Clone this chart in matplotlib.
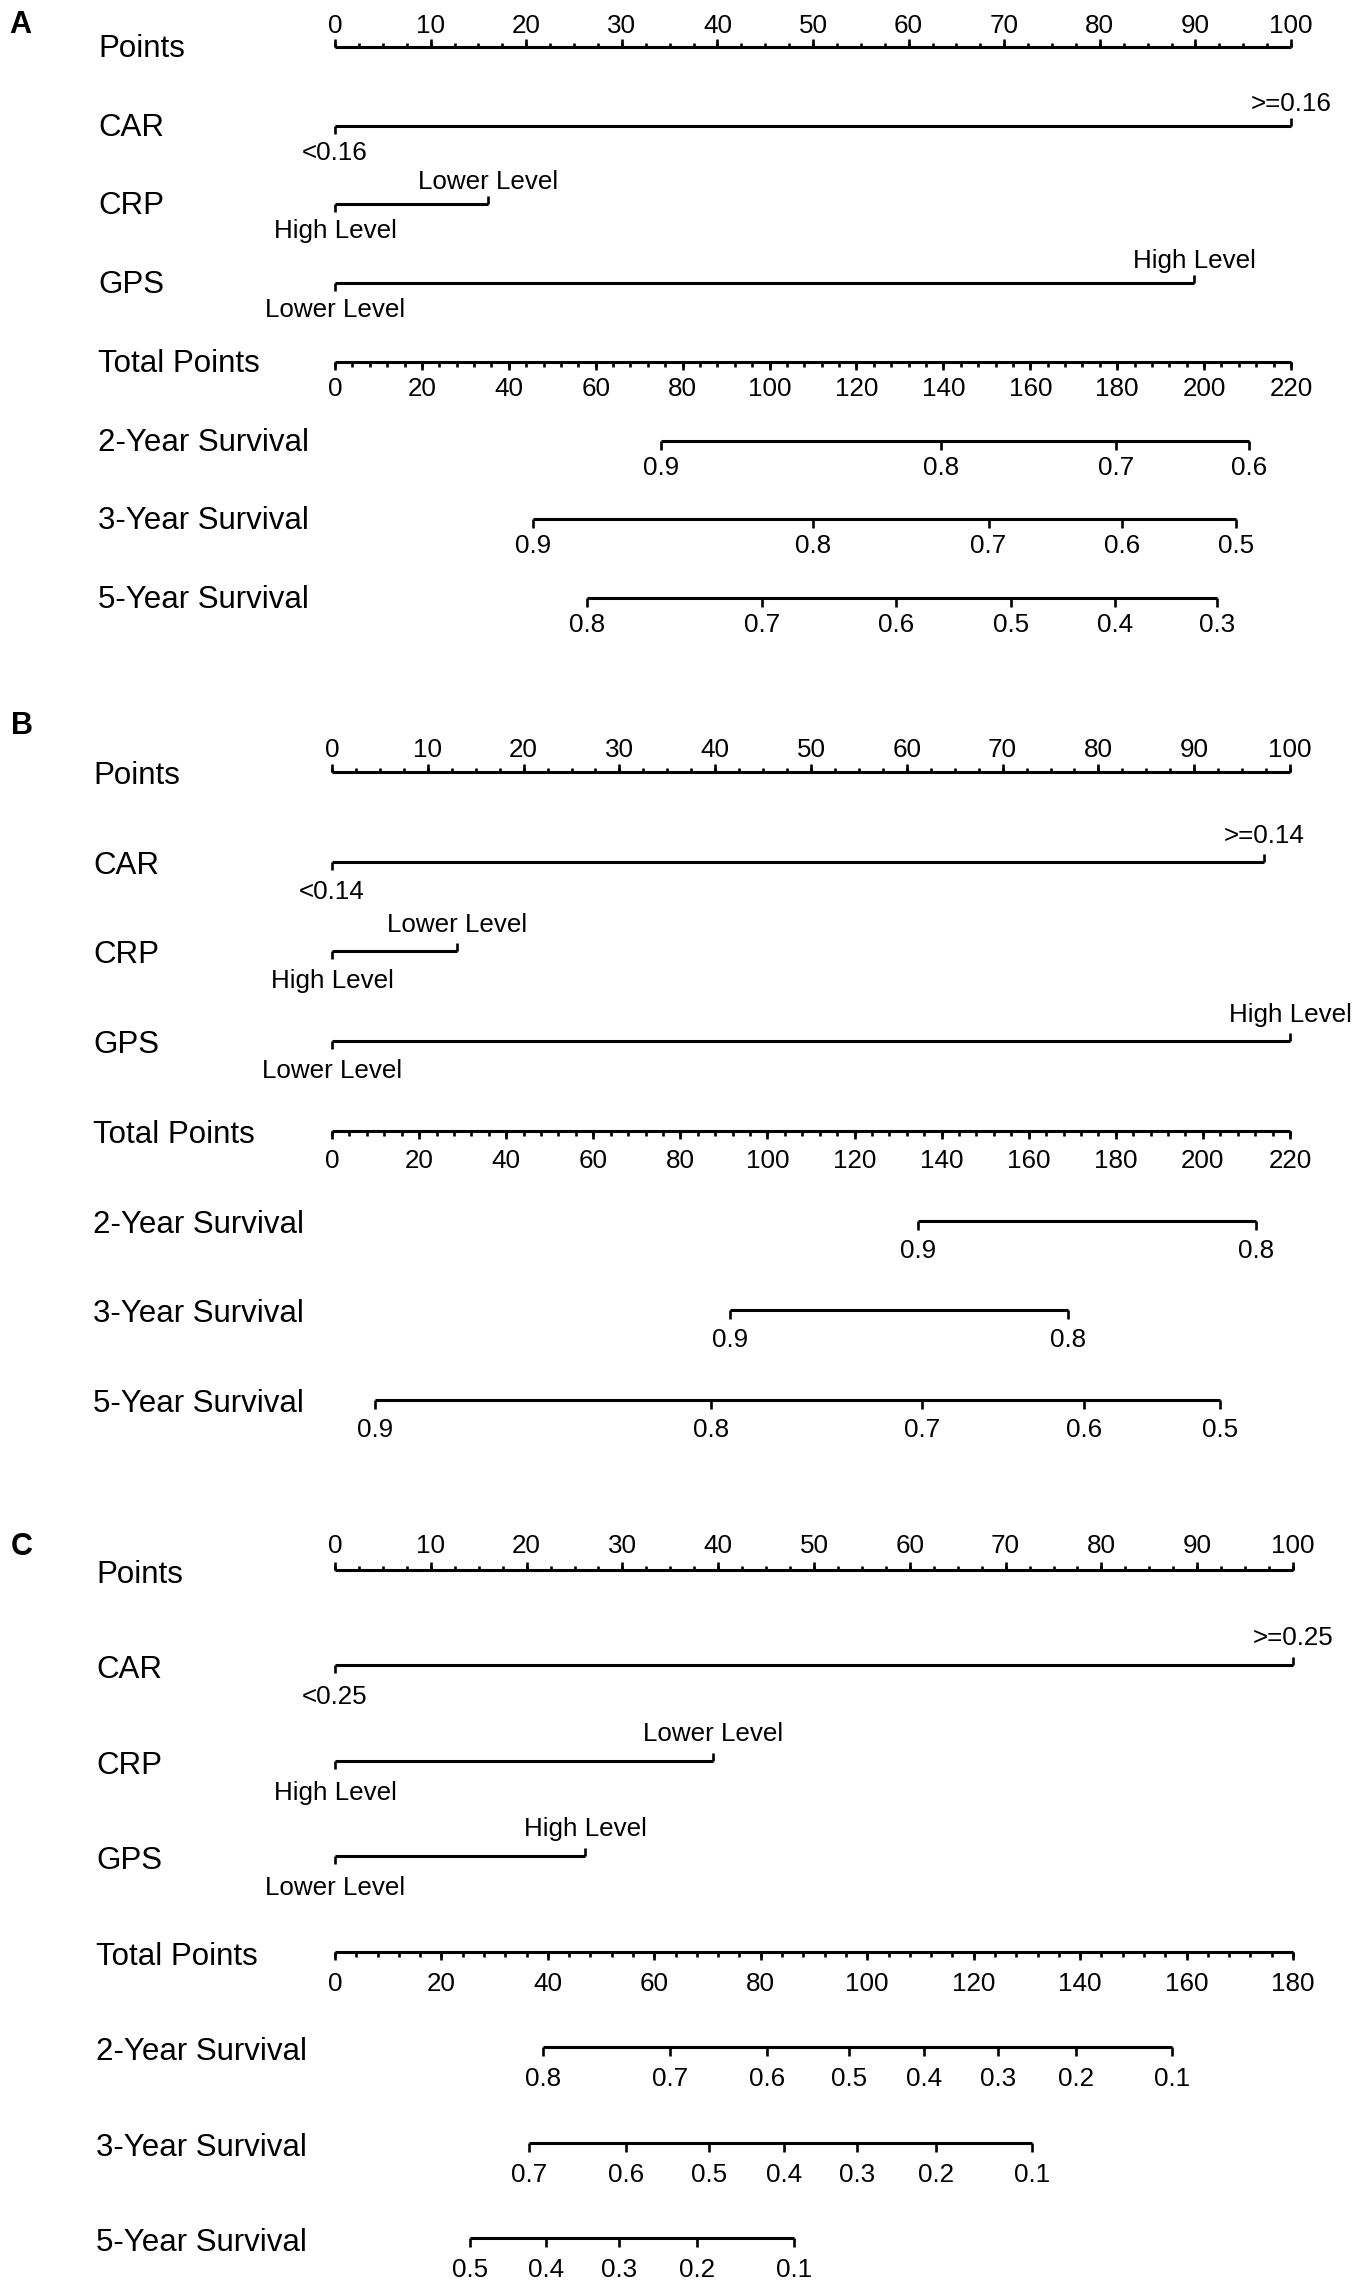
"""
Nomograms for predicting 2-, 3- and 5-year survival from CAR, CRP and GPS.

Three panels (A, B, C), each with a Points scale, the three predictors,
the Total Points scale and the survival probability scales.
"""

import matplotlib.pyplot as plt
from matplotlib.markers import TICKDOWN, TICKUP


plt.rcParams["font.family"] = ["Liberation Sans", "DejaVu Sans"]


# ---------------------------------------------------------------------
# Data
# ---------------------------------------------------------------------

PANEL_LETTERS = ["A", "B", "C"]

ROW_NAMES = [
    "Points",
    "CAR",
    "CRP",
    "GPS",
    "Total Points",
    "2-Year Survival",
    "3-Year Survival",
    "5-Year Survival",
]

POINTS_MAX = 100
TOTAL_POINTS_MAX = [220, 220, 180]

CAR_LABELS_A = ["<0.16", ">=0.16"]
CAR_LABELS_B = ["<0.14", ">=0.14"]
CAR_LABELS_C = ["<0.25", ">=0.25"]
CAR_POINTS_A = [0, 100]
CAR_POINTS_B = [0, 97.3]
CAR_POINTS_C = [0, 100]

CRP_LABELS = ["High Level", "Lower Level"]
CRP_POINTS_A = [0, 16.0]
CRP_POINTS_B = [0, 13.1]
CRP_POINTS_C = [0, 39.5]

GPS_LABELS = ["Lower Level", "High Level"]
GPS_POINTS_A = [0, 89.9]
GPS_POINTS_B = [0, 100]
GPS_POINTS_C = [0, 26.1]

# survival probabilities and where they sit on the Total Points scale
SURV_2Y_A = [0.9, 0.8, 0.7, 0.6]
SURV_2Y_A_TOTAL = [75.0, 139.4, 179.7, 210.4]
SURV_3Y_A = [0.9, 0.8, 0.7, 0.6, 0.5]
SURV_3Y_A_TOTAL = [45.5, 110.1, 150.4, 181.1, 207.4]
SURV_5Y_A = [0.8, 0.7, 0.6, 0.5, 0.4, 0.3]
SURV_5Y_A_TOTAL = [58.1, 98.3, 129.2, 155.6, 179.5, 203.0]

SURV_2Y_B = [0.9, 0.8]
SURV_2Y_B_TOTAL = [134.6, 212.1]
SURV_3Y_B = [0.9, 0.8]
SURV_3Y_B_TOTAL = [91.5, 169.1]
SURV_5Y_B = [0.9, 0.8, 0.7, 0.6, 0.5]
SURV_5Y_B_TOTAL = [9.8, 87.1, 135.5, 172.6, 204.0]

SURV_2Y_C = [0.8, 0.7, 0.6, 0.5, 0.4, 0.3, 0.2, 0.1]
SURV_2Y_C_TOTAL = [39.1, 62.9, 81.1, 96.5, 110.6, 124.6, 139.2, 157.2]
SURV_3Y_C = [0.7, 0.6, 0.5, 0.4, 0.3, 0.2, 0.1]
SURV_3Y_C_TOTAL = [36.4, 54.7, 70.2, 84.3, 98.1, 112.9, 130.9]
SURV_5Y_C = [0.5, 0.4, 0.3, 0.2, 0.1]
SURV_5Y_C_TOTAL = [25.3, 39.6, 53.4, 68.1, 86.3]


# ---------------------------------------------------------------------
# Layout (pixels on the 1355 x 2281 canvas)
# ---------------------------------------------------------------------

FIG_W, FIG_H, DPI = 1355, 2281, 100
PX = 72 / DPI  # pixels -> points

PANEL_TOP = [47, 772, 1570]       # y of the Points line
PANEL_BOTTOM = [598, 1400, 2238]  # y of the 5-Year Survival line
PANEL_X0 = [335, 332, 335]        # x of Points = 0
PANEL_X1 = [1291, 1290, 1293]     # x of Points = 100
NAME_X = [98, 93, 96]
NAME_DROP = [10, 12, 13]
LETTER_X = [9, 11, 11]
LETTER_BASE = [33, 734, 1555]

TICK_LABEL_UP = [14, 15, 17]     # Points tick labels, baseline above line
LEVEL_LABEL_UP = [15, 19, 20]    # upper level labels
LABEL_DOWN = [34, 37, 39]        # labels under a line

NAME_SIZE = 22.5
VALUE_SIZE = 18.7
LETTER_SIZE = 22
LINE_W = 2.2
TICK_W = 1.9


# ---------------------------------------------------------------------
# Drawing helpers
# ---------------------------------------------------------------------

def draw_line(ax, row, x_start, x_end):
    """Draw the horizontal body of one scale."""

    ax.plot(
        [x_start, x_end], [row, row],
        color="black", lw=LINE_W, solid_capstyle="butt", clip_on=False,
    )


def draw_ticks(ax, row, xs, direction, length_px):
    """Draw short vertical ticks on a scale."""

    ax.plot(
        xs, [row] * len(xs),
        ls="none", marker=TICKUP if direction == "up" else TICKDOWN,
        ms=length_px * PX, mew=TICK_W, color="black", clip_on=False,
    )


def put_labels(ax, row, xs, labels, offset_px):
    """Write value labels centred on xs, offset_px above (+) or below (-)."""

    for x, label in zip(xs, labels):
        ax.annotate(
            label, xy=(x, row), xytext=(0, offset_px * PX),
            textcoords="offset points", ha="center", va="baseline",
            fontsize=VALUE_SIZE, annotation_clip=False,
        )


def draw_level_row(ax, row, points, labels, i):
    """Two-level predictor: low end ticks/label down, high end up."""

    draw_line(ax, row, points[0], points[-1])
    draw_ticks(ax, row, [points[0]], "down", 8)
    draw_ticks(ax, row, [points[-1]], "up", 8)
    put_labels(ax, row, [points[0]], [labels[0]], -LABEL_DOWN[i])
    put_labels(ax, row, [points[-1]], [labels[-1]], LEVEL_LABEL_UP[i])


def draw_panel(fig, i, car, crp, gps, survival):
    """Draw one complete nomogram panel."""

    left = PANEL_X0[i] / FIG_W
    width = (PANEL_X1[i] - PANEL_X0[i]) / FIG_W
    bottom = 1 - PANEL_BOTTOM[i] / FIG_H
    height = (PANEL_BOTTOM[i] - PANEL_TOP[i]) / FIG_H

    ax = fig.add_axes([left, bottom, width, height])
    ax.set_xlim(0, POINTS_MAX)
    ax.set_ylim(len(ROW_NAMES) - 1, 0)
    ax.axis("off")

    row_gap_px = (PANEL_BOTTOM[i] - PANEL_TOP[i]) / (len(ROW_NAMES) - 1)
    for row, name in enumerate(ROW_NAMES):
        y_px = PANEL_TOP[i] + row * row_gap_px + NAME_DROP[i]
        fig.text(
            NAME_X[i] / FIG_W, 1 - y_px / FIG_H, name,
            fontsize=NAME_SIZE, ha="left", va="baseline",
        )

    fig.text(
        LETTER_X[i] / FIG_W, 1 - LETTER_BASE[i] / FIG_H, PANEL_LETTERS[i],
        fontsize=LETTER_SIZE, fontweight="bold", ha="left", va="baseline",
    )

    # Points scale
    major = list(range(0, POINTS_MAX + 1, 10))
    minor = [v * 2.5 for v in range(0, POINTS_MAX * 2 // 5 + 1)]
    draw_line(ax, 0, 0, POINTS_MAX)
    draw_ticks(ax, 0, minor, "up", 4.5)
    draw_ticks(ax, 0, major, "up", 8)
    put_labels(ax, 0, major, [str(v) for v in major], TICK_LABEL_UP[i])

    # predictors
    draw_level_row(ax, 1, car[0], car[1], i)
    draw_level_row(ax, 2, crp, CRP_LABELS, i)
    draw_level_row(ax, 3, gps, GPS_LABELS, i)

    # Total Points scale, mapped onto the Points axis
    total_max = TOTAL_POINTS_MAX[i]
    scale = POINTS_MAX / total_max
    total_major = list(range(0, total_max + 1, 20))
    total_minor = list(range(0, total_max + 1, 4))
    draw_line(ax, 4, 0, POINTS_MAX)
    draw_ticks(ax, 4, [v * scale for v in total_minor], "down", 4.5)
    draw_ticks(ax, 4, [v * scale for v in total_major], "down", 8)
    put_labels(
        ax, 4, [v * scale for v in total_major],
        [str(v) for v in total_major], -LABEL_DOWN[i],
    )

    # survival scales
    for row, (probs, totals) in enumerate(survival, start=5):
        xs = [t * scale for t in totals]
        draw_line(ax, row, xs[0], xs[-1])
        draw_ticks(ax, row, xs, "down", 8.5)
        put_labels(ax, row, xs, [f"{p:g}" for p in probs], -LABEL_DOWN[i])


# ---------------------------------------------------------------------
# Main Program
# ---------------------------------------------------------------------

def main() -> None:
    """Build all three nomograms and save the figure."""

    fig = plt.figure(figsize=(FIG_W / DPI, FIG_H / DPI), dpi=DPI)

    draw_panel(
        fig, 0, (CAR_POINTS_A, CAR_LABELS_A), CRP_POINTS_A, GPS_POINTS_A,
        [(SURV_2Y_A, SURV_2Y_A_TOTAL), (SURV_3Y_A, SURV_3Y_A_TOTAL),
         (SURV_5Y_A, SURV_5Y_A_TOTAL)],
    )
    draw_panel(
        fig, 1, (CAR_POINTS_B, CAR_LABELS_B), CRP_POINTS_B, GPS_POINTS_B,
        [(SURV_2Y_B, SURV_2Y_B_TOTAL), (SURV_3Y_B, SURV_3Y_B_TOTAL),
         (SURV_5Y_B, SURV_5Y_B_TOTAL)],
    )
    draw_panel(
        fig, 2, (CAR_POINTS_C, CAR_LABELS_C), CRP_POINTS_C, GPS_POINTS_C,
        [(SURV_2Y_C, SURV_2Y_C_TOTAL), (SURV_3Y_C, SURV_3Y_C_TOTAL),
         (SURV_5Y_C, SURV_5Y_C_TOTAL)],
    )

    fig.savefig("out.png", dpi=DPI, facecolor="white")
    plt.close(fig)


if __name__ == "__main__":
    main()
